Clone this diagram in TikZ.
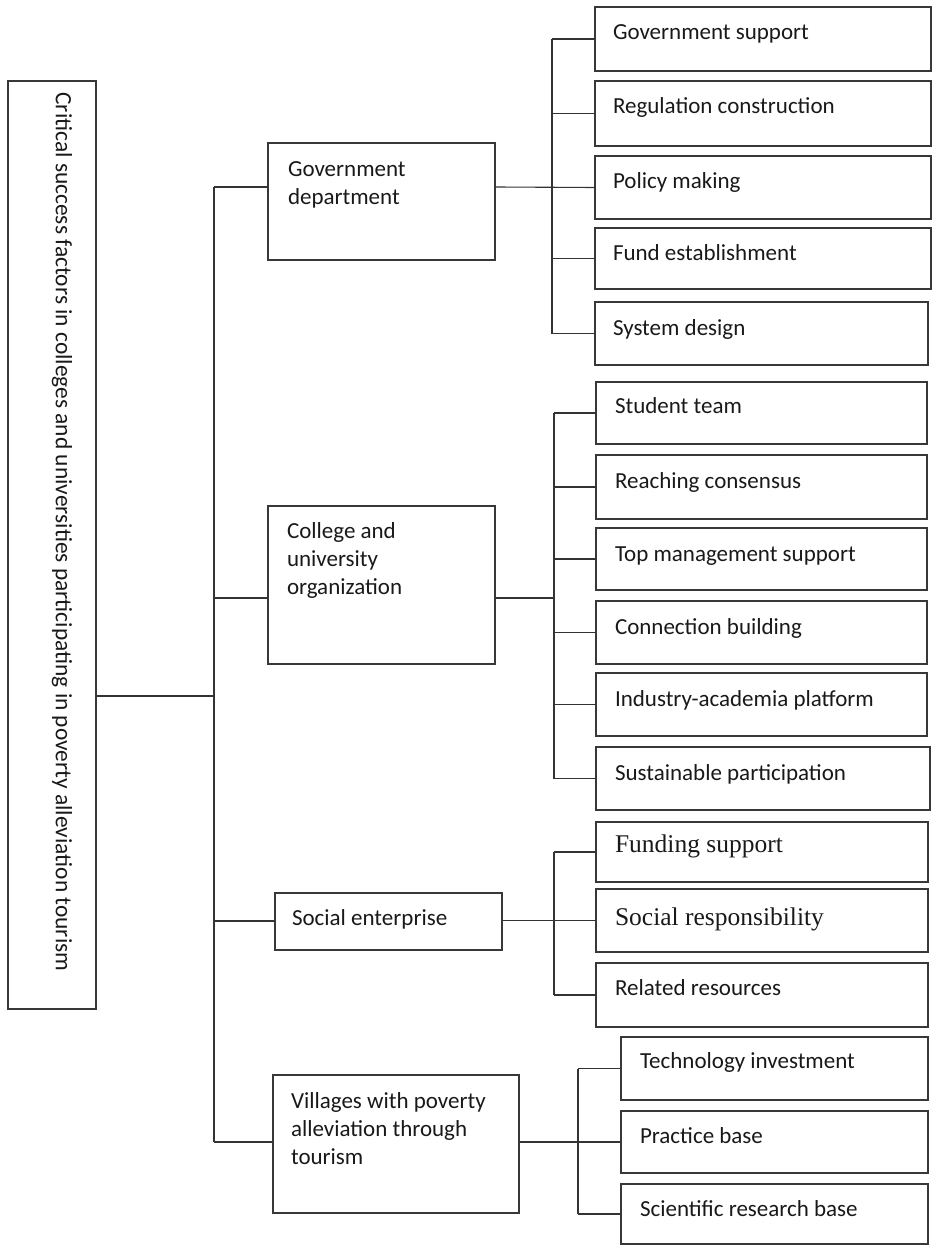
\documentclass[tikz,border=0pt]{standalone}
\usepackage{fontspec}
\setmainfont{Carlito}
\newfontfamily\tnr{Liberation Serif}
\tikzset{
  box/.style={draw=black!78, line width=1.2pt, inner sep=0pt, outer sep=0pt, anchor=north west},
  lbl/.style={anchor=base west, inner sep=0pt, outer sep=0pt, font=\fontsize{23}{28}\selectfont, align=left, text=black!90},
  serif/.style={lbl, font=\tnr\fontsize{25.5}{30}\selectfont},
  conn/.style={draw=black!80, line width=1.1pt},
}
\newcommand\bx[5]{\node[box, minimum width=#4pt, minimum height=#5pt] (#1) at (#2,#3) {};}
\begin{document}
\begin{tikzpicture}[x=1pt,y=-1pt]
\useasboundingbox (0,0) rectangle (934,1246);
% root
\bx{root}{8}{81}{88}{928}
\node[rotate=-90, inner sep=0pt, font=\fontsize{23.4}{28}\selectfont, text=black!90] (roott) at (62,532) {Critical success factors in colleges and universities participating in poverty alleviation tourism};
% level 1
\bx{gd}{268}{143}{227}{117}
\bx{co}{268}{506}{227}{158}
\bx{se}{275}{893}{227}{57}
\bx{vi}{273}{1075}{246}{138}
\node[lbl] (gdt) at ([shift={(20pt,-62pt)}]gd.north west) {Government\\department};
\node[lbl] (cot) at ([shift={(19pt,-88pt)}]co.north west) {College and\\university\\organization};
\node[lbl] (set) at ([shift={(17pt,-32pt)}]se.north west) {Social enterprise};
\node[lbl] (vit) at ([shift={(18pt,-89pt)}]vi.north west) {Villages with poverty\\alleviation through\\tourism};
% government children
\bx{g1}{595}{7}{336}{64}
\bx{g2}{595}{81}{336}{65}
\bx{g3}{595}{156}{336}{63}
\bx{g4}{595}{228}{336}{61}
\bx{g5}{595}{302}{333}{63}
\node[lbl] (g1t) at ([shift={(18pt,-33pt)}]g1.north west) {Government support};
\node[lbl] (g2t) at ([shift={(18pt,-33pt)}]g2.north west) {Regulation construction};
\node[lbl] (g3t) at ([shift={(18pt,-33pt)}]g3.north west) {Policy making};
\node[lbl] (g4t) at ([shift={(18pt,-33pt)}]g4.north west) {Fund establishment};
\node[lbl] (g5t) at ([shift={(18pt,-33pt)}]g5.north west) {System design};
% college children
\bx{c1}{596}{382}{331}{62}
\bx{c2}{596}{455}{331}{64}
\bx{c3}{596}{528}{331}{62}
\bx{c4}{596}{601}{331}{63}
\bx{c5}{596}{673}{331}{63}
\bx{c6}{596}{747}{334}{63}
\node[lbl] (c1t) at ([shift={(19pt,-31pt)}]c1.north west) {Student team};
\node[lbl] (c2t) at ([shift={(19pt,-33pt)}]c2.north west) {Reaching consensus};
\node[lbl] (c3t) at ([shift={(19pt,-33pt)}]c3.north west) {Top management support};
\node[lbl] (c4t) at ([shift={(19pt,-33pt)}]c4.north west) {Connection building};
\node[lbl] (c5t) at ([shift={(19pt,-33pt)}]c5.north west) {Industry-academia platform};
\node[lbl] (c6t) at ([shift={(19pt,-33pt)}]c6.north west) {Sustainable participation};
% social children
\bx{s1}{596}{822}{332}{60}
\bx{s2}{596}{889}{332}{63}
\bx{s3}{596}{963}{332}{64}
\node[serif] (s1t) at ([shift={(19pt,-30pt)}]s1.north west) {Funding support};
\node[serif] (s2t) at ([shift={(19pt,-36pt)}]s2.north west) {Social responsibility};
\node[lbl] (s3t) at ([shift={(19pt,-32pt)}]s3.north west) {Related resources};
% village children
\bx{v1}{621}{1037}{307}{63}
\bx{v2}{621}{1111}{307}{62}
\bx{v3}{621}{1184}{307}{60}
\node[lbl] (v1t) at ([shift={(19pt,-31pt)}]v1.north west) {Technology investment};
\node[lbl] (v2t) at ([shift={(19pt,-32pt)}]v2.north west) {Practice base};
\node[lbl] (v3t) at ([shift={(19pt,-32pt)}]v3.north west) {Scientific research base};
% trunk
\coordinate (j0) at (214,696);
\coordinate (j1) at (214,187);
\coordinate (j2) at (214,598);
\coordinate (j3) at (214,921);
\coordinate (j4) at (214,1142);
\draw[conn] (j1) -- (j4);
\draw[conn] (root.east |- j0) -- (j0);
\draw[conn] (j1) -- (gd.west |- j1);
\draw[conn] (j2) -- (co.west |- j2);
\draw[conn] (j3) -- (se.west |- j3);
\draw[conn] (j4) -- (vi.west |- j4);
% government bus
\coordinate (b1) at (552,187);
\draw[conn] (gd.east |- b1) -- (g3.west);
\draw[conn] (b1 |- g1.west) -- (b1 |- g5.west);
\foreach \n in {g1,g2,g4,g5} \draw[conn] (b1 |- \n.west) -- (\n.west);
% college bus
\coordinate (b2) at (554,598);
\draw[conn] (co.east |- b2) -- (b2);
\draw[conn] (b2 |- c1.west) -- (b2 |- c6.west);
\foreach \n in {c1,c2,c3,c4,c5,c6} \draw[conn] (b2 |- \n.west) -- (\n.west);
% social bus
\coordinate (b3) at (554,921);
\draw[conn] (se.east |- s2.west) -- (s2.west);
\draw[conn] (b3 |- s1.west) -- (b3 |- s3.west);
\foreach \n in {s1,s3} \draw[conn] (b3 |- \n.west) -- (\n.west);
% villages bus
\coordinate (b4) at (578,1142);
\draw[conn] (vi.east |- v2.west) -- (v2.west);
\draw[conn] (b4 |- v1.west) -- (b4 |- v3.west);
\foreach \n in {v1,v3} \draw[conn] (b4 |- \n.west) -- (\n.west);
\end{tikzpicture}
\end{document}
